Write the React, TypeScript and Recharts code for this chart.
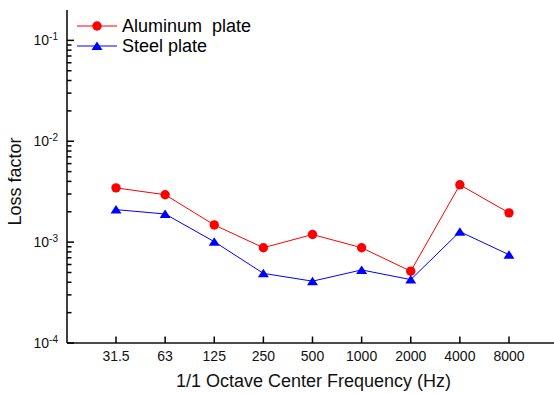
import React from 'react';
import { LineChart, Line, XAxis, YAxis, Legend } from 'recharts';

const frequencies = ['31.5', '63', '125', '250', '500', '1000', '2000', '4000', '8000'];
const aluminumLoss = [3.45e-3, 2.95e-3, 1.48e-3, 8.8e-4, 1.19e-3, 8.8e-4, 5.15e-4, 3.7e-3, 1.95e-3];
const steelLoss = [2.1e-3, 1.9e-3, 1.01e-3, 4.9e-4, 4.1e-4, 5.3e-4, 4.25e-4, 1.27e-3, 7.5e-4];
const decades = [1e-4, 1e-3, 1e-2, 1e-1];
const yDomain = [1e-4, 0.2];

const FONT = '"Liberation Sans", Arial, sans-serif';
const AXIS = '#111';

const data = frequencies.map((f, i) => ({ freq: f, aluminum: aluminumLoss[i], steel: steelLoss[i] }));

// majors plus 2..9 minors for the log axis
const yTicks: number[] = [];
decades.forEach(d => {
  for (let m = 1; m <= 9; m++) {
    const v = d * m;
    if (v < yDomain[1] - 1e-12) yTicks.push(v);
  }
});

const YTick = ({ x, y, payload }: any) => {
  const v = payload.value;
  const exp = Math.round(Math.log10(v));
  const major = Math.abs(v - Math.pow(10, exp)) < v * 1e-6;
  return (
    <g>
      <line x1={x} x2={x + (major ? 7 : 4.5)} y1={y} y2={y} stroke="#000" strokeWidth={1.5} />
      {major && (
        <text x={x - 9} y={y + 5} textAnchor="end" fontSize={14} fontFamily={FONT} fill="#111">
          10<tspan fontSize={10} dy={-5}>{exp}</tspan>
        </text>
      )}
    </g>
  );
};

const XTick = ({ x, y, payload }: any) => (
  <g>
    <line x1={x} x2={x} y1={y} y2={y - 6.5} stroke="#000" strokeWidth={1.5} />
    <text x={x} y={y + 18} textAnchor="middle" fontSize={14} fontFamily={FONT} fill="#111">
      {payload.value}
    </text>
  </g>
);

const TopTick = ({ x, y }: any) => (
  <line x1={x} x2={x} y1={y} y2={y + 3} stroke="#000" strokeWidth={1.3} />
);

const Triangle = ({ cx, cy, fill }: any) => (
  <polygon points={`${cx},${cy - 4.5} ${cx - 5.5},${cy + 4} ${cx + 5.5},${cy + 4}`} fill={fill} />
);

const series = [
  { name: 'Aluminum  plate', color: '#ff0000', marker: 'circle' },
  { name: 'Steel plate', color: '#0000ff', marker: 'triangle' },
];

const renderLegend = () => (
  <div style={{ fontFamily: FONT, fontSize: 18, color: '#000' }}>
    {series.map(s => (
      <div key={s.name} style={{ display: 'flex', alignItems: 'center', height: 20 }}>
        <svg width={40} height={20}>
          <line x1={0} x2={40} y1={10} y2={10} stroke={s.color} strokeWidth={1} />
          {s.marker === 'circle'
            ? <circle cx={20} cy={10} r={4.7} fill={s.color} />
            : <Triangle cx={20} cy={10} fill={s.color} />}
        </svg>
        <span style={{ marginLeft: 5, whiteSpace: 'pre', lineHeight: '20px' }}>{s.name}</span>
      </div>
    ))}
  </div>
);

export default function App() {
  return (
    <div style={{ position: 'absolute', left: 0, top: 0, background: '#fff' }}>
      <LineChart width={554} height={393} data={data} margin={{ top: 10, right: 0, bottom: 0, left: 0 }}>
        <XAxis
          dataKey="freq"
          type="category"
          padding={{ left: 49, right: 45 }}
          height={50}
          interval={0}
          tickSize={0}
          tickMargin={0}
          tickLine={false}
          tick={<XTick />}
          axisLine={{ stroke: AXIS, strokeWidth: 1.6 }}
          label={(props: any) => {
            const vb = props.viewBox;
            return (
              <text x={vb.x + vb.width / 2 + 3} y={vb.y + 44} textAnchor="middle" fontSize={18} fontFamily={FONT} fill="#111">
                1/1 Octave Center Frequency (Hz)
              </text>
            );
          }}
        />
        <XAxis
          xAxisId="top"
          orientation="top"
          dataKey="freq"
          type="category"
          padding={{ left: 49, right: 45 }}
          height={0}
          interval={0}
          tickSize={0}
          tickMargin={0}
          tickLine={false}
          tick={<TopTick />}
          axisLine={{ stroke: AXIS, strokeWidth: 1.6 }}
        />
        <YAxis
          scale="log"
          domain={yDomain}
          allowDataOverflow
          ticks={yTicks}
          interval={0}
          width={67}
          tickSize={0}
          tickMargin={0}
          tickLine={false}
          tick={<YTick />}
          axisLine={{ stroke: AXIS, strokeWidth: 1.6 }}
          label={(props: any) => {
            const vb = props.viewBox;
            const cx = 15;
            const cy = vb.y + vb.height / 2 + 5;
            return (
              <text x={cx} y={cy} transform={`rotate(-90 ${cx} ${cy})`} dy={6} textAnchor="middle" fontSize={18} fontFamily={FONT} fill="#111">
                Loss factor
              </text>
            );
          }}
        />
        <Legend
          layout="vertical"
          align="center"
          verticalAlign="middle"
          content={renderLegend}
          wrapperStyle={{ top: 16, left: 77, width: 'auto' }}
        />
        <Line
          dataKey="aluminum"
          stroke="#ff0000"
          strokeWidth={1}
          isAnimationActive={false}
          dot={{ r: 4.7, fill: '#ff0000', stroke: 'none' }}
          activeDot={false}
        />
        <Line
          dataKey="steel"
          stroke="#0000ff"
          strokeWidth={1}
          isAnimationActive={false}
          dot={(p: any) => <Triangle key={p.index} cx={p.cx} cy={p.cy} fill="#0000ff" />}
          activeDot={false}
        />
      </LineChart>
    </div>
  );
}
